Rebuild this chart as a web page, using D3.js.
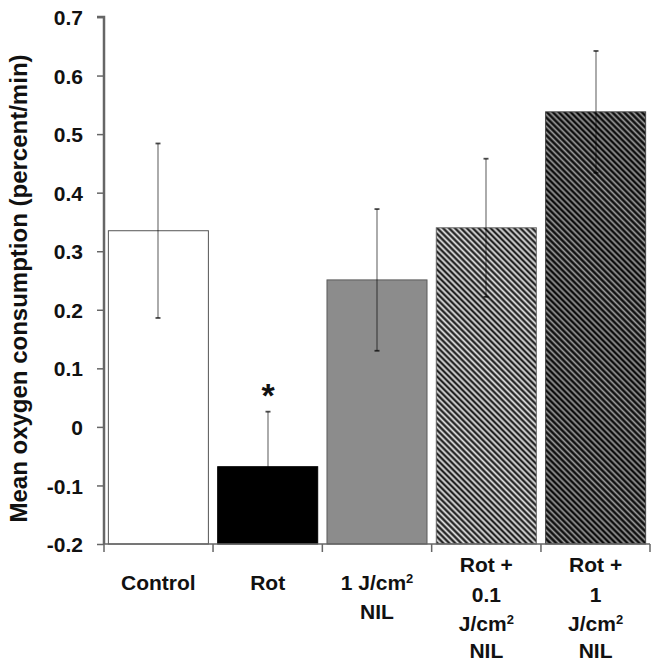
<!DOCTYPE html>
<html>
<head>
<meta charset="utf-8">
<script src="https://cdn.jsdelivr.net/npm/d3@7"></script>
<style>
  html, body { margin: 0; padding: 0; background: #fff; }
  svg { display: block; }
  text { font-family: "Liberation Sans", Arial, sans-serif; font-weight: bold; fill: #111; }
</style>
</head>
<body>
<script>
// ---- data ----
const categories = ["Control", "Rot", "1 J/cm2 NIL", "Rot + 0.1 J/cm2 NIL", "Rot + 1 J/cm2 NIL"];
const means = [0.335, -0.068, 0.251, 0.340, 0.538];
const errors = [0.149, 0.094, 0.121, 0.118, 0.104];
const labelLines = [
  ["Control"],
  ["Rot"],
  ["1 J/cm²", "NIL"],
  ["Rot +", "0.1", "J/cm²", "NIL"],
  ["Rot +", "1", "J/cm²", "NIL"]
];
const yTicks = [-0.2, -0.1, 0, 0.1, 0.2, 0.3, 0.4, 0.5, 0.6, 0.7];
const yTickLabels = ["-0.2", "-0.1", "0", "0.1", "0.2", "0.3", "0.4", "0.5", "0.6", "0.7"];
const fills = ["#ffffff", "#000000", "#8c8c8c", "url(#hatchLight)", "url(#hatchDark)"];
const strokes = ["#555555", "#000000", "#5a5a5a", "#666666", "#444444"];
const significance = ["", "*", "", "", ""];

const W = 660, H = 662;
const svg = d3.select("body").append("svg").attr("width", W).attr("height", H);

const defs = svg.append("defs");
function hatch(id, bg, dark, light) {
  const p = defs.append("pattern").attr("id", id).attr("patternUnits", "userSpaceOnUse")
    .attr("width", 4.2).attr("height", 4.2).attr("patternTransform", "rotate(-45)");
  p.append("rect").attr("width", 4.2).attr("height", 4.2).attr("fill", bg);
  p.append("rect").attr("x", 0).attr("width", 1.6).attr("height", 4.2).attr("fill", dark);
  p.append("rect").attr("x", 2.4).attr("width", 1.0).attr("height", 4.2).attr("fill", light);
}
hatch("hatchLight", "#8a8a8a", "#1e1e1e", "#e0e0e0");
hatch("hatchDark", "#4e4e4e", "#0a0a0a", "#9a9a9a");

const x0 = 104, x1 = 650, yTop = 17, yBot = 544;
const x = d3.scaleBand().domain(categories).range([x0, x1]).paddingInner(0.085).paddingOuter(0.04);
const y = d3.scaleLinear().domain([-0.2, 0.7]).range([yBot, yTop]);

// bars
const g = svg.append("g");
g.selectAll("rect.bar").data(categories).enter().append("rect")
  .attr("class", "bar")
  .attr("x", d => x(d))
  .attr("width", x.bandwidth())
  .attr("y", (d, i) => y(Math.max(means[i], -0.2)))
  .attr("height", (d, i) => y(-0.2) - y(means[i]))
  .attr("fill", (d, i) => fills[i])
  .attr("stroke", (d, i) => strokes[i])
  .attr("stroke-width", 1);

// error bars
const eg = svg.append("g");
categories.forEach((c, i) => {
  const cx = Math.round(x(c) + x.bandwidth() / 2);
  const lo = means[i] - errors[i], hi = means[i] + errors[i];
  eg.append("line").attr("x1", cx).attr("x2", cx).attr("y1", y(lo)).attr("y2", y(hi))
    .attr("stroke", "#000").attr("stroke-opacity", 0.55).attr("stroke-width", 1.2);
  [lo, hi].forEach(v => {
    eg.append("line").attr("x1", cx - 2.5).attr("x2", cx + 2.5).attr("y1", y(v)).attr("y2", y(v))
      .attr("stroke", "#000").attr("stroke-opacity", 0.7).attr("stroke-width", 1.8);
  });
  if (significance[i]) {
    svg.append("text").attr("x", cx).attr("y", y(hi) - 5)
      .attr("text-anchor", "middle").style("font-size", "34px")
      .text(significance[i]);
  }
});

// y axis
const yAxis = d3.axisLeft(y).tickValues(yTicks).tickFormat((d, i) => yTickLabels[i]).tickSize(7).tickPadding(14);
const ya = svg.append("g").attr("transform", `translate(${x0},0)`).call(yAxis);
ya.select(".domain").attr("stroke", "#666").attr("stroke-width", 2.5).attr("d", `M-7,${yTop}H0V${yBot}`);
ya.selectAll(".tick line").attr("stroke", "#666").attr("stroke-width", 1.5);
ya.selectAll(".tick text").style("font-size", "21px").style("font-family", "Liberation Sans, Arial, sans-serif")
  .style("font-weight", "bold").attr("fill", "#111").attr("dy", "0.36em");

// x axis
const bounds = categories.map(c => x(c) - x.step() * x.paddingInner() / 2);
bounds[0] = x0;
bounds.push(x1);
const xa = svg.append("g");
xa.append("line").attr("x1", x0).attr("x2", x1).attr("y1", yBot).attr("y2", yBot)
  .attr("stroke", "#666").attr("stroke-width", 1.5);
bounds.forEach(b => {
  xa.append("line").attr("x1", b).attr("x2", b).attr("y1", yBot).attr("y2", yBot + 8)
    .attr("stroke", "#666").attr("stroke-width", 1.5);
});

// category labels
const lineYs = {1: [583], 2: [583, 612], 4: [565, 595, 624, 651]};
categories.forEach((c, i) => {
  const cx = x(c) + x.bandwidth() / 2;
  const lines = labelLines[i];
  const ys = lineYs[lines.length];
  lines.forEach((ln, j) => {
    const t = svg.append("text").attr("x", cx).attr("y", ys[j]).attr("text-anchor", "middle")
      .attr("dy", "0.35em").style("font-size", "21px");
    if (ln.includes("²")) {
      const parts = ln.split("²");
      t.append("tspan").text(parts[0]);
      t.append("tspan").attr("dy", "-7").style("font-size", "13px").text("2");
    } else {
      t.text(ln);
    }
  });
});

// y axis title
svg.append("text").attr("transform", `translate(27,${(yTop + yBot) / 2 + 8}) rotate(-90)`)
  .attr("text-anchor", "middle").style("font-size", "24px")
  .text("Mean oxygen consumption (percent/min)");
</script>
</body>
</html>
